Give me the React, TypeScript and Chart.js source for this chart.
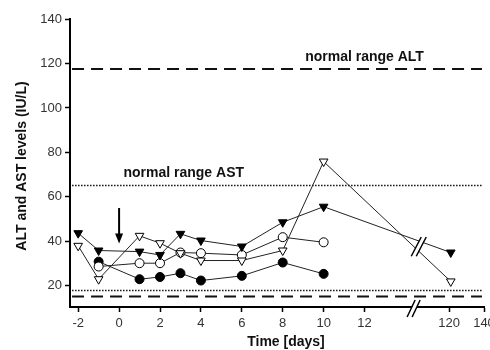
import React, { useEffect, useRef } from "react";
import { Chart, registerables } from "chart.js";

Chart.register(...registerables);

// ---------- data ----------
const triangleDays = [-2, -1, 1, 2, 3, 4, 6, 8, 10, 121];
const circleDays = [-1, 1, 2, 3, 4, 6, 8, 10];
const filledTriangle = [43.7, 35.9, 35.4, 33.9, 43.4, 40.4, 37.7, 48.6, 55.6, 35];
const openTriangle = [38, 23, 42.5, 39.2, 34.7, 31.4, 31.4, 35.9, 75.9, 22];
const openCircle = [28.7, 30.2, 30.2, 35, 34.7, 33.9, 41.9, 39.6];
const filledCircle = [30.9, 23, 24, 25.7, 22.4, 24.5, 30.5, 25.4];

const xTickDays = [-2, 0, 2, 4, 6, 8, 10, 12, 120, 140];
const yTicks = [20, 40, 60, 80, 100, 120, 140];

const altNormal = [15.2, 117.5];
const astNormal = [17.9, 65.1];

const arrowDay = 0;
const arrowFrom = 55;
const arrowTo = 39;

// ---------- broken x axis mapping ----------
const LATE_START = 120;
const LATE_POS = 16.13;
const LATE_SCALE = 0.0855;
const X_MIN = -2.4;
const X_MAX = LATE_POS + (140 - LATE_START) * LATE_SCALE;
const AXIS_BREAK_POS = 14.4;
const LINE_BREAK_POS = 14.65;
const pos = (d: number) => (d <= 14 ? d : LATE_POS + (d - LATE_START) * LATE_SCALE);

const FONT = 'Arial, "Liberation Sans", sans-serif';

const annotations = [
  { text: "normal range ALT", day: 12.0, value: 121.1 },
  { text: "normal range AST", day: 3.16, value: 69.1 },
];

function drawBreak(ctx: CanvasRenderingContext2D, cx: number, yTop: number, yBot: number, spread: number, lean: number) {
  const o1 = -spread / 2;
  const o2 = spread / 2;
  ctx.fillStyle = "#fff";
  ctx.beginPath();
  ctx.moveTo(cx + o1 - lean, yBot);
  ctx.lineTo(cx + o1 + lean, yTop);
  ctx.lineTo(cx + o2 + lean, yTop);
  ctx.lineTo(cx + o2 - lean, yBot);
  ctx.closePath();
  ctx.fill();
  ctx.strokeStyle = "#000";
  ctx.lineWidth = 1.5;
  ctx.beginPath();
  ctx.moveTo(cx + o1 - lean, yBot);
  ctx.lineTo(cx + o1 + lean, yTop);
  ctx.moveTo(cx + o2 - lean, yBot);
  ctx.lineTo(cx + o2 + lean, yTop);
  ctx.stroke();
}

function interp(daysArr: number[], vals: number[], p: number) {
  for (let i = 0; i < daysArr.length - 1; i++) {
    const a = pos(daysArr[i]);
    const b = pos(daysArr[i + 1]);
    if (p >= a && p <= b) {
      return vals[i] + ((p - a) / (b - a)) * (vals[i + 1] - vals[i]);
    }
  }
  return null;
}

const overlayPlugin = {
  id: "overlay",
  afterDraw(chart: any) {
    const { ctx } = chart;
    const x = chart.scales.x;
    const y = chart.scales.y;
    ctx.save();

    // annotation texts
    ctx.fillStyle = "#111";
    ctx.font = `bold 14px ${FONT}`;
    ctx.textAlign = "center";
    ctx.textBaseline = "alphabetic";
    annotations.forEach((a) => {
      ctx.fillText(a.text, x.getPixelForValue(pos(a.day)), y.getPixelForValue(a.value));
    });

    // axis titles
    ctx.textBaseline = "middle";
    ctx.fillText("Time [days]", 286, 342);
    ctx.save();
    ctx.translate(22, 166);
    ctx.rotate(-Math.PI / 2);
    ctx.fillText("ALT and AST levels (IU/L)", 0, 0);
    ctx.restore();

    // arrow
    const ax = x.getPixelForValue(pos(arrowDay));
    const ay1 = y.getPixelForValue(arrowFrom);
    const ay2 = y.getPixelForValue(arrowTo);
    ctx.strokeStyle = "#000";
    ctx.lineWidth = 2;
    ctx.beginPath();
    ctx.moveTo(ax, ay1);
    ctx.lineTo(ax, ay2 - 8);
    ctx.stroke();
    ctx.fillStyle = "#000";
    ctx.beginPath();
    ctx.moveTo(ax - 4, ay2 - 10);
    ctx.lineTo(ax + 4, ay2 - 10);
    ctx.lineTo(ax, ay2);
    ctx.closePath();
    ctx.fill();

    // axis break
    const bx = x.getPixelForValue(AXIS_BREAK_POS);
    const by = chart.chartArea.bottom;
    drawBreak(ctx, bx, by - 7, by + 10, 5, 4);

    // data line break
    const lx = x.getPixelForValue(LINE_BREAK_POS);
    const v1 = interp(triangleDays, filledTriangle, LINE_BREAK_POS);
    const v2 = interp(triangleDays, openTriangle, LINE_BREAK_POS);
    if (v1 !== null && v2 !== null) {
      const p1 = y.getPixelForValue(v1);
      const p2 = y.getPixelForValue(v2);
      drawBreak(ctx, lx, Math.min(p1, p2) - 4, Math.max(p1, p2) + 5, 5, 5);
    }

    ctx.restore();
  },
};

export default function App() {
  const ref = useRef<HTMLCanvasElement | null>(null);

  useEffect(() => {
    if (!ref.current) return;
    const lineColor = "#222";
    const guide = (v: number, dash: number[], width: number) => ({
      data: [
        { x: -2.3, y: v },
        { x: X_MAX - 0.1, y: v },
      ],
      borderColor: "#111",
      borderWidth: width,
      borderDash: dash,
      pointRadius: 0,
      fill: false,
    });

    const chart = new Chart(ref.current, {
      type: "line",
      data: {
        datasets: [
          {
            data: triangleDays.map((d, i) => ({ x: pos(d), y: filledTriangle[i] })),
            borderColor: lineColor,
            borderWidth: 1,
            pointStyle: "triangle",
            rotation: 180,
            pointRadius: 5,
            pointBackgroundColor: "#000",
            pointBorderColor: "#000",
            pointBorderWidth: 1,
          },
          {
            data: triangleDays.map((d, i) => ({ x: pos(d), y: openTriangle[i] })),
            borderColor: lineColor,
            borderWidth: 1,
            pointStyle: "triangle",
            rotation: 180,
            pointRadius: 5,
            pointBackgroundColor: "#fff",
            pointBorderColor: "#000",
            pointBorderWidth: 1,
          },
          {
            data: circleDays.map((d, i) => ({ x: pos(d), y: openCircle[i] })),
            borderColor: lineColor,
            borderWidth: 1,
            pointStyle: "circle",
            pointRadius: 4.5,
            pointBackgroundColor: "#fff",
            pointBorderColor: "#000",
            pointBorderWidth: 1,
          },
          {
            data: circleDays.map((d, i) => ({ x: pos(d), y: filledCircle[i] })),
            borderColor: lineColor,
            borderWidth: 1,
            pointStyle: "circle",
            pointRadius: 4.5,
            pointBackgroundColor: "#000",
            pointBorderColor: "#000",
            pointBorderWidth: 1,
          },
          guide(altNormal[1], [12, 7], 2),
          guide(altNormal[0], [12, 7], 2),
          guide(astNormal[1], [1.5, 1.5], 1.5),
          guide(astNormal[0], [1.5, 1.5], 1.5),
        ] as any,
      },
      options: {
        animation: false,
        responsive: false,
        devicePixelRatio: 1,
        layout: { padding: { top: 19, right: 5, left: 0, bottom: 0 } },
        plugins: { legend: { display: false }, tooltip: { enabled: false } },
        elements: { line: { tension: 0 } },
        scales: {
          x: {
            type: "linear",
            min: X_MIN,
            max: X_MAX,
            afterBuildTicks: (scale: any) => {
              scale.ticks = xTickDays.map((d) => ({ value: pos(d) }));
            },
            afterFit: (scale: any) => {
              scale.height = 43;
              scale.paddingLeft = 0;
              scale.paddingRight = 0;
            },
            ticks: {
              autoSkip: false,
              maxRotation: 0,
              padding: 4,
              color: "#333",
              font: { family: FONT, size: 13 },
              callback: (_v: any, i: number) => String(xTickDays[i]),
            },
            grid: {
              drawOnChartArea: false,
              drawTicks: true,
              tickLength: 5,
              tickWidth: 1.5,
              tickColor: "#000",
            },
            border: { display: true, color: "#000", width: 2 },
          },
          y: {
            type: "linear",
            min: 10.5,
            max: 140,
            afterBuildTicks: (scale: any) => {
              scale.ticks = yTicks.map((v) => ({ value: v }));
            },
            afterFit: (scale: any) => {
              scale.width = 70;
              scale.paddingTop = 0;
              scale.paddingBottom = 0;
            },
            ticks: {
              padding: 3,
              color: "#333",
              font: { family: FONT, size: 13 },
              callback: (v: any) => String(v),
            },
            grid: {
              drawOnChartArea: false,
              drawTicks: true,
              tickLength: 5,
              tickWidth: 1.5,
              tickColor: "#000",
            },
            border: { display: true, color: "#000", width: 2 },
          },
        },
      } as any,
      plugins: [overlayPlugin],
    });
    return () => chart.destroy();
  }, []);

  return (
    <div style={{ position: "absolute", left: 0, top: 0, width: 490, height: 350, background: "#fff" }}>
      <canvas ref={ref} width={490} height={350} style={{ display: "block" }} />
    </div>
  );
}
